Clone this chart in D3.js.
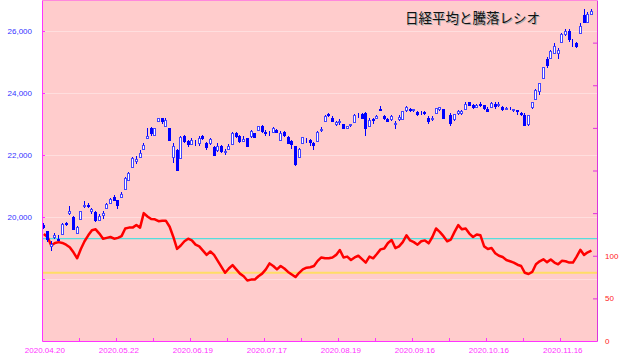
<!DOCTYPE html>
<html>
<head>
<meta charset="utf-8">
<script src="https://cdn.jsdelivr.net/npm/d3@7"></script>
<style>
body { margin: 0; background: #fff; }
svg { display: block; }
</style>
</head>
<body>
<div id="chart"></div>
<script>
// trading days 2020.04.20 - 2020.11.27 (10/01 = TSE outage, no candle)
var dates = [
  "2020.04.20","2020.04.21","2020.04.22","2020.04.23","2020.04.24","2020.04.27","2020.04.28","2020.04.30",
  "2020.05.01","2020.05.07","2020.05.08","2020.05.11","2020.05.12","2020.05.13","2020.05.14","2020.05.15",
  "2020.05.18","2020.05.19","2020.05.20","2020.05.21","2020.05.22","2020.05.25","2020.05.26","2020.05.27",
  "2020.05.28","2020.05.29","2020.06.01","2020.06.02","2020.06.03","2020.06.04","2020.06.05","2020.06.08",
  "2020.06.09","2020.06.10","2020.06.11","2020.06.12","2020.06.15","2020.06.16","2020.06.17","2020.06.18",
  "2020.06.19","2020.06.22","2020.06.23","2020.06.24","2020.06.25","2020.06.26","2020.06.29","2020.06.30",
  "2020.07.01","2020.07.02","2020.07.03","2020.07.06","2020.07.07","2020.07.08","2020.07.09","2020.07.10",
  "2020.07.13","2020.07.14","2020.07.15","2020.07.16","2020.07.17","2020.07.20","2020.07.21","2020.07.22",
  "2020.07.27","2020.07.28","2020.07.29","2020.07.30","2020.07.31","2020.08.03","2020.08.04","2020.08.05",
  "2020.08.06","2020.08.07","2020.08.11","2020.08.12","2020.08.13","2020.08.14","2020.08.17","2020.08.18",
  "2020.08.19","2020.08.20","2020.08.21","2020.08.24","2020.08.25","2020.08.26","2020.08.27","2020.08.28",
  "2020.08.31","2020.09.01","2020.09.02","2020.09.03","2020.09.04","2020.09.07","2020.09.08","2020.09.09",
  "2020.09.10","2020.09.11","2020.09.14","2020.09.15","2020.09.16","2020.09.17","2020.09.18","2020.09.23",
  "2020.09.24","2020.09.25","2020.09.28","2020.09.29","2020.09.30","2020.10.01","2020.10.02","2020.10.05",
  "2020.10.06","2020.10.07","2020.10.08","2020.10.09","2020.10.12","2020.10.13","2020.10.14","2020.10.15",
  "2020.10.16","2020.10.19","2020.10.20","2020.10.21","2020.10.22","2020.10.23","2020.10.26","2020.10.27",
  "2020.10.28","2020.10.29","2020.10.30","2020.11.02","2020.11.04","2020.11.05","2020.11.06","2020.11.09",
  "2020.11.10","2020.11.11","2020.11.12","2020.11.13","2020.11.16","2020.11.17","2020.11.18","2020.11.19",
  "2020.11.20","2020.11.24","2020.11.25","2020.11.26","2020.11.27"
];

var opens = [
  19740,19550,19050,19340,19300,19440,19800,20120,20000,19470,19930,20340,20400,20200,20150,19900,
  20050,20300,20450,20650,20550,20650,20900,21200,21600,21800,21930,22180,22550,22860,22650,23090,
  23200,22950,22870,21950,22150,21900,22600,22450,22350,22450,22400,22600,22400,22400,22250,22150,
  22300,22100,22200,22350,22700,22600,22450,22550,22600,22700,22800,22950,22750,22700,22750,22800,
  22500,22730,22580,22450,22290,21950,22380,22520,22500,22400,22450,22800,23100,23330,23200,23000,
  23050,23000,22880,22960,23050,23300,23330,23350,22950,23150,23200,23500,23250,23150,23150,23000,
  23150,23150,23450,23500,23450,23400,23350,23400,23200,23150,23350,23480,23480,null,23300,23150,
  23350,23350,23500,23700,23600,23550,23650,23600,23500,23550,23650,23600,23550,23500,23500,23450,
  23450,23350,23300,23000,23550,23800,24050,24500,25100,25130,25300,25300,25650,25900,26000,25650,
  25600,25950,26500,26300,26550
];
var highs = [
  19800,19560,19210,19500,19430,19820,19840,20370,20040,19700,20200,20530,20450,20300,20180,20100,
  20180,20450,20600,20700,20560,20800,21300,21460,21950,21970,22160,22400,22870,22900,22880,23190,
  23200,23185,22880,22400,22200,22600,22650,22480,22550,22500,22600,22640,22420,22550,22280,22390,
  22330,22200,22350,22730,22740,22650,22600,22560,22800,22720,22950,22960,22800,22760,22900,22850,
  22760,22760,22600,22480,22300,22230,22580,22560,22520,22420,22780,22900,23280,23340,23250,23100,
  23150,23010,22950,23000,23320,23350,23370,23400,23180,23180,23280,23580,23300,23200,23300,23100,
  23300,23420,23580,23520,23500,23420,23420,23420,23250,23250,23520,23560,23490,null,23350,23320,
  23450,23440,23700,23720,23650,23650,23700,23620,23550,23700,23700,23700,23570,23560,23550,23500,
  23460,23400,23350,23300,23700,24120,24330,24850,25150,25400,25600,25450,25930,26050,26050,25750,
  25650,26250,26700,26600,26710
];
var lows = [
  19600,19180,18900,19290,19240,19430,19700,20080,19580,19440,19900,20300,20290,20100,19850,19880,
  19950,20260,20420,20500,20250,20600,20880,21150,21580,21700,21900,22150,22530,22600,22640,23060,
  23000,22900,22450,21750,21500,21880,22400,22250,22330,22300,22300,22480,22170,22330,21960,22100,
  22060,22000,22150,22340,22550,22400,22420,22270,22560,22550,22760,22700,22620,22600,22720,22700,
  22450,22580,22350,22200,21650,21930,22350,22380,22300,22150,22440,22740,23050,23220,23080,22950,
  22980,22850,22850,22900,23030,23200,23180,22600,22900,23000,23150,23430,23120,23050,23100,22850,
  23100,23120,23400,23400,23400,23250,23300,23280,23000,23100,23330,23420,23150,null,22950,23100,
  23300,23300,23480,23580,23500,23520,23550,23450,23380,23520,23500,23550,23420,23450,23450,23380,
  23300,23250,22950,22950,23500,23780,23950,24450,24800,25100,25250,25100,25600,25850,25650,25500,
  25450,25900,26250,26250,26500
];
var closes = [
  19669,19280,19137,19429,19262,19783,19771,20193,19619,19674,20179,20390,20366,20267,19914,20037,
  20133,20433,20595,20552,20388,20741,21271,21419,21916,21877,22062,22325,22614,22695,22864,23178,
  23091,23124,22472,22305,21530,22582,22455,22355,22478,22437,22549,22534,22259,22512,21995,22288,
  22121,22145,22306,22714,22614,22438,22529,22290,22784,22587,22945,22770,22696,22717,22884,22751,
  22715,22657,22397,22339,21710,22195,22573,22514,22418,22329,22750,22843,23249,23289,23096,23051,
  23110,22880,22920,22985,23296,23290,23208,22882,23139,23138,23247,23465,23205,23089,23274,23032,
  23235,23406,23559,23454,23475,23319,23360,23346,23087,23204,23511,23539,23185,null,23029,23312,
  23433,23422,23647,23619,23558,23601,23626,23507,23410,23671,23567,23639,23474,23516,23494,23485,
  23418,23331,22977,23295,23695,24105,24325,24839,24905,25349,25520,25385,25906,26014,25728,25634,
  25527,26165,26297,26537,26644
];
// 騰落レシオ (25日)
var ratio = [
  125.5,122,112,115,116,115,113,110,104,97,108,117,124,130,131,126,
  120,121,122,120,121,123,132,133,133,136,133,150,146,143,142.7,140.5,
  141,141,134,122,108,112,117,120,118,113,111,106,101,105,101,94,
  87,80,85,89,84,79,76,71,72,72,76,79,84,91,88,84,
  88,85,81,78,75,80,84,86,86.5,88,94,98,97,97,98,101,
  106.7,98,99,95,98,100,96,92,99,97,102,107.5,108.5,115,118.5,109,
  111,116,124,118,116,113,117,118,114.6,122,132,128,123,117,119,128,
  136,131,132,126,122,125,124,111,108,109,103,100,98.5,95,93.5,92,
  89.5,88,80,78.6,81,90,93.5,95.8,92.5,95.5,92,90,94,93.5,92,92,
  99,107,101,104,106
];

var priceTicks = [18000, 20000, 22000, 24000, 26000];
var ratioTicks = [0, 50, 100, 150, 200, 250, 300, 350, 400];
var refLines = [{v: 120, c: "#55dddd", w: 1.2}, {v: 80, c: "#ffdd66", w: 2}];
var title = "日経平均と騰落レシオ";

var width = 630, height = 354;
var plotL = 42, plotR = 597, plotT = 0, plotB = 341;

var svg = d3.select("#chart").append("svg")
  .attr("width", width)
  .attr("height", height);

// one extra empty slot at the right end
var x = d3.scaleLinear().domain([0, dates.length + 1]).range([plotL, plotR]);
var yP = d3.scaleLinear().domain([16000, 27000]).range([plotB, plotT]);
var yR = d3.scaleLinear().domain([0, 400]).range([plotB, plotT]);

svg.append("rect")
  .attr("x", plotL).attr("y", plotT)
  .attr("width", plotR - plotL).attr("height", plotB - plotT)
  .attr("fill", "#ffcccc");

// faint grid
svg.append("g").selectAll("line")
  .data(priceTicks)
  .enter().append("line")
  .attr("x1", plotL).attr("x2", plotR)
  .attr("y1", function(d) { return Math.round(yP(d)) + 0.5; })
  .attr("y2", function(d) { return Math.round(yP(d)) + 0.5; })
  .attr("stroke", "#ffdede");

svg.append("g").selectAll("line")
  .data(refLines)
  .enter().append("line")
  .attr("x1", plotL).attr("x2", plotR)
  .attr("y1", function(d) { return yR(d.v); })
  .attr("y2", function(d) { return yR(d.v); })
  .attr("stroke", function(d) { return d.c; })
  .attr("stroke-width", function(d) { return d.w; });

// ratio line
var line = d3.line()
  .x(function(d, i) { return x(i + 0.5); })
  .y(function(d) { return yR(d); });

svg.append("path")
  .datum(ratio)
  .attr("d", line)
  .attr("fill", "none")
  .attr("stroke", "#ff0000")
  .attr("stroke-width", 2.5)
  .attr("stroke-linejoin", "round");

// candles
var idx = d3.range(dates.length).filter(function(i) { return opens[i] !== null; });
var candles = svg.append("g").selectAll("g")
  .data(idx)
  .enter().append("g");

candles.append("line")
  .attr("x1", function(i) { return Math.floor(x(i + 0.5)) + 0.5; })
  .attr("x2", function(i) { return Math.floor(x(i + 0.5)) + 0.5; })
  .attr("y1", function(i) { return Math.round(yP(highs[i])); })
  .attr("y2", function(i) { return Math.round(yP(lows[i])); })
  .attr("stroke", "#0000ff");

candles.append("rect")
  .attr("x", function(i) { return Math.floor(x(i + 0.5)) - 0.5; })
  .attr("y", function(i) { return Math.round(yP(Math.max(opens[i], closes[i]))) + 0.5; })
  .attr("width", 2)
  .attr("height", function(i) {
    return Math.max(0, Math.round(yP(Math.min(opens[i], closes[i]))) - Math.round(yP(Math.max(opens[i], closes[i]))));
  })
  .attr("fill", function(i) { return closes[i] >= opens[i] ? "#ffffff" : "#0000ff"; })
  .attr("stroke", function(i) { return closes[i] >= opens[i] ? "#4444ff" : "#0000ff"; });

// axes
var fmt = d3.format(",");
var axL = svg.append("g")
  .attr("transform", "translate(" + plotL + ",0)")
  .call(d3.axisLeft(yP).tickValues(priceTicks).tickSize(-3).tickSizeOuter(0).tickPadding(10)
    .tickFormat(function(d) { return d >= 20000 ? fmt(d) : ""; }));
axL.select(".domain").attr("stroke", "#ff33ff");
axL.selectAll(".tick line").attr("stroke", "#ff33ff");
axL.selectAll("text").attr("fill", "#3333ff").style("font", "8px 'Liberation Sans', Arial, sans-serif");

var axR = svg.append("g")
  .attr("transform", "translate(" + plotR + ",0)")
  .call(d3.axisRight(yR).tickValues(ratioTicks).tickSize(-4).tickSizeOuter(0).tickPadding(8)
    .tickFormat(function(d) { return d <= 100 ? d : ""; }));
axR.select(".domain").attr("stroke", "#dd33dd");
axR.selectAll(".tick line").attr("stroke", "#dd33dd");
axR.selectAll("text").attr("fill", "#ff2222").style("font", "8px 'Liberation Sans', Arial, sans-serif");

var axB = svg.append("g")
  .attr("transform", "translate(0," + plotB + ")")
  .call(d3.axisBottom(x).tickValues(d3.range(0, dates.length + 1, 10)).tickSize(-3).tickSizeOuter(0).tickFormat(""));
axB.select(".domain").attr("stroke", "#ff33ff");
axB.selectAll(".tick line").attr("stroke", "#ff33ff");

svg.append("g").selectAll("text")
  .data(d3.range(0, dates.length, 20))
  .enter().append("text")
  .attr("x", function(i) { return x(i + 0.5) + 1; })
  .attr("y", 353)
  .attr("text-anchor", "middle")
  .attr("fill", "#ff33ff")
  .style("font", "8px 'Liberation Sans', Arial, sans-serif")
  .text(function(i) { return dates[i]; });

// top border
svg.append("line")
  .attr("x1", plotL).attr("x2", plotR)
  .attr("y1", 0.5).attr("y2", 0.5)
  .attr("stroke", "#ff88dd");

// title with shadow
svg.append("text")
  .attr("x", 406).attr("y", 24)
  .attr("fill", "#aaaaaa")
  .style("font", "13.5px 'Noto Sans CJK JP', sans-serif")
  .text(title);
svg.append("text")
  .attr("x", 405).attr("y", 23)
  .attr("fill", "#111111")
  .style("font", "13.5px 'Noto Sans CJK JP', sans-serif")
  .text(title);
</script>
</body>
</html>
